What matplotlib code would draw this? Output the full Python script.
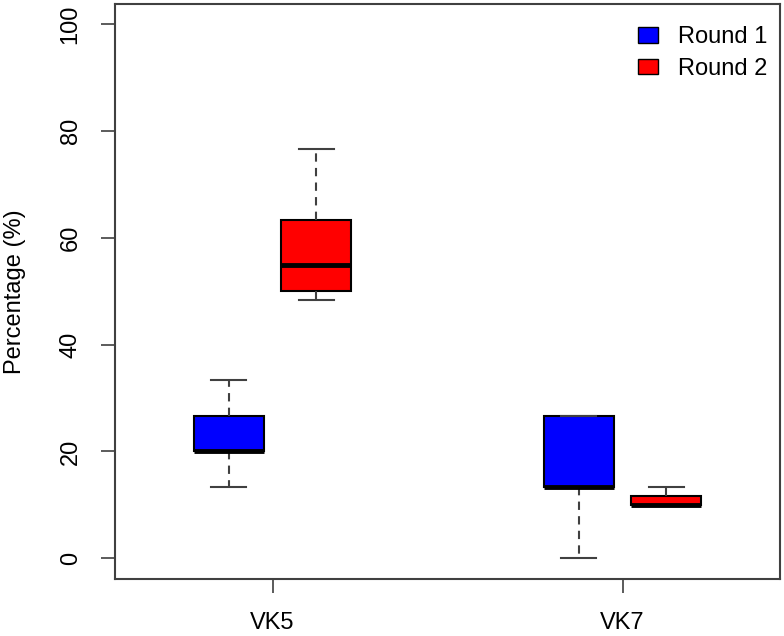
import matplotlib.pyplot as plt
from matplotlib.patches import Patch

plt.rcParams['font.family'] = ['Liberation Sans', 'DejaVu Sans']

groups = ["VK5", "VK7"]
rounds = ["Round 1", "Round 2"]
colors = ["#0000ff", "#ff0000"]

# five-number summaries per box, order: VK5 R1, VK5 R2, VK7 R1, VK7 R2
whislo = [13.3, 48.3, 0.0, 10.0]
q1 = [20.0, 50.0, 13.3, 10.0]
med = [20.0, 55.0, 13.3, 10.0]
q3 = [26.7, 63.3, 26.7, 11.7]
whishi = [33.3, 76.7, 26.7, 13.3]
positions = [1, 2, 5, 6]

stats = []
for i in range(len(med)):
    stats.append(dict(whislo=whislo[i], q1=q1[i], med=med[i], q3=q3[i],
                      whishi=whishi[i], fliers=[]))

fig = plt.figure(figsize=(7.84, 6.36), dpi=100)
ax = fig.add_axes([115 / 784, 57 / 636, 665 / 784, 575.5 / 636])

bp = ax.bxp(stats, positions=positions, widths=0.8, patch_artist=True,
            showfliers=False,
            boxprops=dict(edgecolor="black", linewidth=1.5),
            medianprops=dict(color="black", linewidth=3.5, solid_capstyle="butt"),
            whiskerprops=dict(color="#404040", linewidth=1.5, linestyle=(0, (4, 3))),
            capprops=dict(color="#404040", linewidth=1.5),
            capwidths=0.4)
for i, box in enumerate(bp["boxes"]):
    box.set_facecolor(colors[i % 2])

ax.set_xlim(-0.3, 7.3)
ax.set_ylim(-3.9, 103.9)
ax.set_xticks([1.5, 5.5])
ax.set_xticklabels(groups)
ax.set_yticks([0, 20, 40, 60, 80, 100])
ax.tick_params(axis="both", labelsize=17, length=10, width=1.2, color="#404040", pad=14)
ax.tick_params(axis="y", labelrotation=90)
for lab in ax.get_yticklabels():
    lab.set_verticalalignment("center")
for s in ax.spines.values():
    s.set_linewidth(1.5)
    s.set_color("#404040")

ax.set_ylabel("Percentage (%)", fontsize=17, labelpad=24)

handles = [Patch(facecolor=c, edgecolor="black", linewidth=1) for c in colors]
ax.legend(handles, rounds, loc="upper right", frameon=False, fontsize=17,
          handlelength=0.85, handleheight=0.65, handletextpad=0.85,
          labelspacing=0.4, borderaxespad=0.2, borderpad=0.6,
          bbox_to_anchor=(1 + 6 / 665, 1 - 4 / 575.5))

fig.savefig("out.png", dpi=100)
